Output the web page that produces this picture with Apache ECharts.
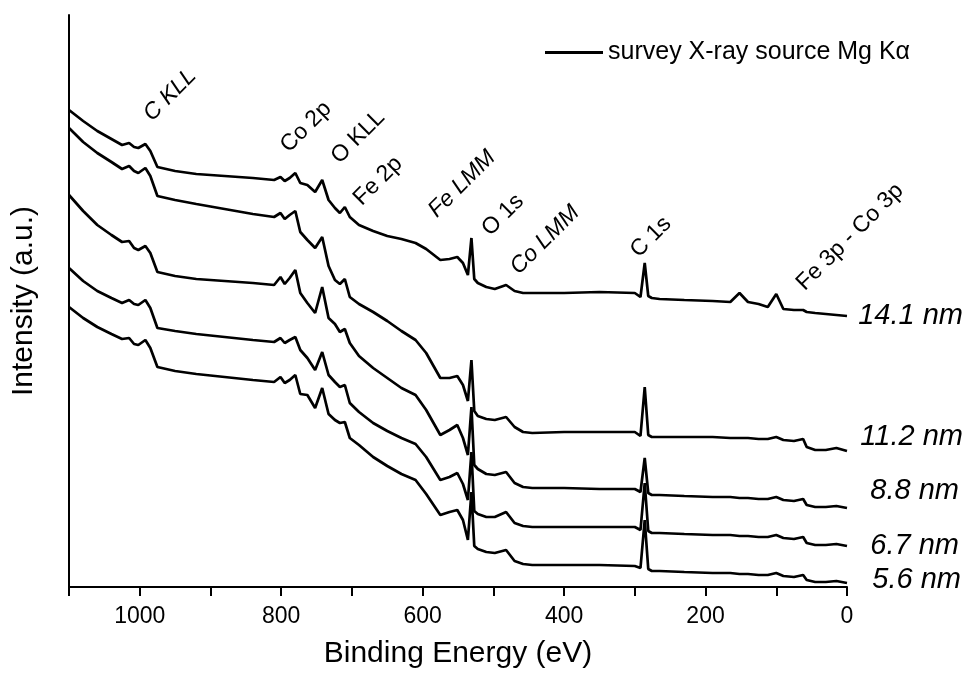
<!DOCTYPE html>
<html><head><meta charset="utf-8">
<script src="https://cdn.jsdelivr.net/npm/echarts@6/dist/echarts.min.js"></script>
<style>html,body{margin:0;padding:0;background:#fff}#c{width:967px;height:682px}</style>
</head><body><div id="c"></div>
<script>
// Binding energy sample points (eV)
const energy = [1100,1080,1060,1040,1025, 1015,1008,1002,992,985, 975,950,920,880,840, 810,801,795,788,780,
  773,763,752,742,733, 724,717,710,703,690, 670,650,630,610,595, 575,562,551,543,536,
  531,527,522,510,498, 482,470,458,445,400, 350,300,292,286,281, 276,265,230,190,165,
  152,140,125,112,100, 90,75,62,57,45, 30,15,0];

// Intensities (a.u., stacked offsets)
const i141 = [477,466,456,448,442, 444,440,439,443,436, 420,416,413,411,409, 407,410,406,409,414,
  404,402,395,407,387, 379,374,380,370,362, 356,351,348,344,338, 327,328,330,324,312,
  349,308,304,300,298, 302,296,294,294,294, 295,294,290,324,291, 289,288,287,286,285,
  294,285,283,280,293, 278,277,277,275,274, 273,272,271];
const i112 = [459,445,434,425,418, 421,416,414,419,411, 391,387,383,378,373, 370,374,368,372,376,
  355,347,339,350,321, 307,303,308,290,283, 275,266,256,247,234, 209,209,211,202,186,
  227,176,171,168,167, 170,160,155,154,155, 155,155,151,200,152, 150,150,150,150,149,
  149,149,148,148,150, 147,146,148,140,137, 137,139,136];
const i88 = [392,376,362,352,345, 346,339,337,341,334, 315,311,308,306,304, 302,310,303,309,317,
  294,284,274,300,269, 263,255,258,244,231, 219,209,199,192,177, 152,157,162,149,132,
  180,122,118,113,112, 115,104,100,99,99, 98,98,95,129,94, 92,92,91,90,90,
  89,89,88,88,90, 87,86,88,82,80, 80,81,79];
const i67 = [319,306,296,289,284, 287,283,282,287,279, 259,256,253,250,247, 245,249,244,247,250,
  237,229,217,235,212, 205,200,202,184,175, 164,156,149,143,130, 107,110,114,103,87,
  135,76,73,70,70, 75,64,61,60,60, 60,60,57,104,56, 54,54,53,52,52,
  51,51,50,50,52, 49,48,50,44,42, 42,43,41];
const i56 = [280,269,260,253,248, 249,243,242,247,239, 220,216,213,210,207, 205,210,204,207,212,
  193,192,179,199,173, 167,164,165,149,142, 130,121,113,107,93, 72,75,77,67,47,
  95,41,38,35,34, 37,26,23,22,22, 22,21,19,67,18, 16,16,15,14,14,
  13,13,12,12,14, 11,10,12,7,5, 5,6,4];

const sampleNames = ['14.1 nm','11.2 nm','8.8 nm','6.7 nm','5.6 nm'];
const legendName = 'survey X-ray source Mg K\u03b1';
const peakLabels = ['C KLL','Co 2p','O KLL','Fe 2p','Fe LMM','O 1s','Co LMM','C 1s','Fe 3p - Co 3p'];

// ---- presentation ----
const FONT = '"Liberation Sans", Arial, Helvetica, sans-serif';
const curves = [i141, i112, i88, i67, i56];
const endOffsets = [[126,0],[126,-14],[122,-17],[122,0],[124,-3]];
const peakPos = [[170,95,true],[306,127,false],[358,137,false],[378,181,false],[462,184,true],
  [503,215,false],[545,240,true],[651,237,false],[850,237,false]];

const series = curves.map((vals, k) => ({
  type: 'line',
  name: legendName,
  data: energy.map((e, i) => [e, vals[i]]),
  symbol: 'none',
  smooth: false,
  lineStyle: { color: '#000', width: 2.7 },
  itemStyle: { color: '#000' },
  clip: false,
  endLabel: {
    show: true,
    formatter: sampleNames[k],
    fontFamily: FONT, fontStyle: 'italic', fontSize: 29, color: '#000',
    distance: 10, offset: endOffsets[k]
  },
  emphasis: { disabled: true }
}));

const graphic = peakLabels.map((t, i) => ({
  type: 'text',
  x: peakPos[i][0], y: peakPos[i][1],
  rotation: Math.PI / 4,
  silent: true,
  style: {
    text: t, fill: '#000',
    font: (peakPos[i][2] ? 'italic ' : '') + '23px ' + FONT,
    align: 'center', verticalAlign: 'middle'
  }
}));

const chart = echarts.init(document.getElementById('c'));
chart.setOption({
  animation: false,
  backgroundColor: '#fff',
  textStyle: { fontFamily: FONT, color: '#000' },
  grid: { left: 69, right: 120, top: 15, bottom: 95, containLabel: false },
  legend: {
    data: [legendName],
    left: 540, top: 35,
    icon: 'rect', itemWidth: 58, itemHeight: 3, itemGap: 8,
    textStyle: { fontFamily: FONT, fontSize: 25, color: '#000' },
    selectedMode: false
  },
  xAxis: {
    type: 'value', inverse: true, min: 0, max: 1100, interval: 200,
    name: 'Binding Energy (eV)', nameLocation: 'middle', nameGap: 52,
    nameTextStyle: { fontFamily: FONT, fontSize: 30, color: '#000' },
    axisLine: { show: true, onZero: false, lineStyle: { color: '#000', width: 2 } },
    axisTick: { show: true, length: 9, lineStyle: { color: '#000', width: 2 } },
    minorTick: { show: true, splitNumber: 2, length: 9, lineStyle: { color: '#000', width: 2 } },
    axisLabel: { fontFamily: FONT, fontSize: 23, color: '#000', margin: 18,
      showMaxLabel: false, formatter: v => String(v) },
    splitLine: { show: false }, minorSplitLine: { show: false }
  },
  yAxis: {
    type: 'value', min: 0, max: 572, position: 'left',
    name: 'Intensity (a.u.)', nameLocation: 'middle', nameGap: 30, nameRotate: 90,
    nameTextStyle: { fontFamily: FONT, fontSize: 30, color: '#000' },
    axisLine: { show: true, onZero: false, lineStyle: { color: '#000', width: 2 } },
    axisTick: { show: false }, axisLabel: { show: false }, splitLine: { show: false }
  },
  series: series,
  graphic: graphic
});
</script></body></html>
